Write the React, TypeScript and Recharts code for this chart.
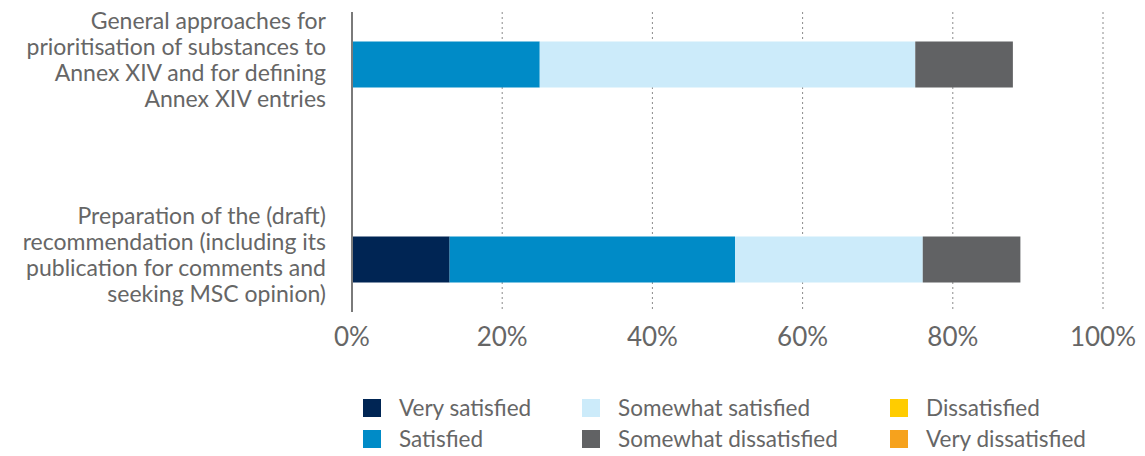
import React from 'react';
import { BarChart, Bar, XAxis, YAxis, CartesianGrid, Legend } from 'recharts';

const categories = [
  'General approaches for prioritisation of substances to Annex XIV and for defining Annex XIV entries',
  'Preparation of the (draft) recommendation (including its publication for comments and seeking MSC opinion)',
];
const categoryLines = [
  ['General approaches for', 'prioritisation of substances to', 'Annex XIV and for defining', 'Annex XIV entries'],
  ['Preparation of the (draft)', 'recommendation (including its', 'publication for comments and', 'seeking MSC opinion)'],
];
const seriesNames = [
  'Very satisfied',
  'Satisfied',
  'Somewhat satisfied',
  'Somewhat dissatisfied',
  'Dissatisfied',
  'Very dissatisfied',
];
const verySatisfied = [0, 13];
const satisfied = [25, 38];
const somewhatSatisfied = [50, 25];
const somewhatDissatisfied = [13, 13];
const dissatisfied = [0, 0];
const veryDissatisfied = [0, 0];
const xTicks = [0, 20, 40, 60, 80, 100];
const seriesColors = ['#002554', '#008BC7', '#CCEBFA', '#616264', '#FFCC00', '#F6A21D'];
const legendOrder = [
  'Very satisfied',
  'Satisfied',
  'Somewhat satisfied',
  'Somewhat dissatisfied',
  'Dissatisfied',
  'Very dissatisfied',
];

const seriesValues = [verySatisfied, satisfied, somewhatSatisfied, somewhatDissatisfied, dissatisfied, veryDissatisfied];
const data = categories.map((c, i) => {
  const row: any = { category: c, idx: i };
  seriesNames.forEach((s, k) => {
    row[s] = seriesValues[k][i];
  });
  return row;
});

const FONT = 'Lato, "Open Sans", sans-serif';
const TEXT = '#666666';

const YTick = (props: any) => {
  const { x, y, payload } = props;
  const i = categories.indexOf(payload.value);
  const lines = categoryLines[i] || [payload.value];
  const spacing = 26;
  const start = -5 - ((lines.length - 1) * spacing) / 2;
  return (
    <g>
      {lines.map((l: string, k: number) => (
        <text
          key={k}
          x={x}
          y={y + start + k * spacing}
          textAnchor="end"
          dominantBaseline="central"
          fontFamily={FONT}
          fontSize={23}
          fill={TEXT}
        >
          {l}
        </text>
      ))}
    </g>
  );
};

const renderLegend = (props: any) => {
  const payload = props.payload || [];
  const colX = [363, 582, 890];
  const rowY = [399, 430];
  return (
    <div style={{ position: 'relative', height: 0, width: 0 }}>
      {legendOrder.map((name, idx) => {
        const item = payload.find((p: any) => p.value === name);
        const color = item ? item.color : '#000';
        const col = Math.floor(idx / 2);
        const row = idx % 2;
        return (
          <div
            key={name}
            style={{
              position: 'absolute',
              left: colX[col],
              top: rowY[row],
              display: 'flex',
              alignItems: 'center',
              whiteSpace: 'nowrap',
              height: 18,
            }}
          >
            <span style={{ display: 'inline-block', width: 18, height: 18, background: color }} />
            <span
              style={{
                marginLeft: 18,
                fontFamily: FONT,
                fontSize: 22.5,
                color: TEXT,
                lineHeight: '18px',
              }}
            >
              {name}
            </span>
          </div>
        );
      })}
    </div>
  );
};

export default function App() {
  return (
    <div style={{ position: 'absolute', left: 0, top: 0, width: 1145, height: 456, background: '#fff' }}>
      <BarChart
        width={1145}
        height={456}
        data={data}
        layout="vertical"
        margin={{ top: 12, right: 42, left: 0, bottom: 104 }}
      >
        <CartesianGrid
          horizontal={false}
          vertical={true}
          stroke="#8a8a8a"
          strokeDasharray="2 3"
          strokeWidth={1}
        />
        <XAxis
          type="number"
          domain={[0, 100]}
          ticks={xTicks}
          axisLine={false}
          tickLine={false}
          tickSize={0}
          tickMargin={16}
          height={40}
          tickFormatter={(v: number) => `${v}%`}
          tick={{ fontFamily: FONT, fontSize: 26, fill: TEXT }}
        />
        <YAxis
          type="category"
          dataKey="category"
          width={352}
          axisLine={{ stroke: '#7a7a7a', strokeWidth: 2 }}
          tickLine={false}
          tickSize={0}
          tickMargin={26}
          padding={{ top: -45.5, bottom: -44.5 }}
          tick={<YTick />}
          interval={0}
        />
        <Legend verticalAlign="bottom" wrapperStyle={{ left: 0, top: 0 }} content={renderLegend} />
        {seriesNames.map((s, k) => (
          <Bar
            key={s}
            dataKey={s}
            name={s}
            stackId="a"
            fill={seriesColors[k]}
            barSize={46}
            isAnimationActive={false}
          />
        ))}
      </BarChart>
    </div>
  );
}
